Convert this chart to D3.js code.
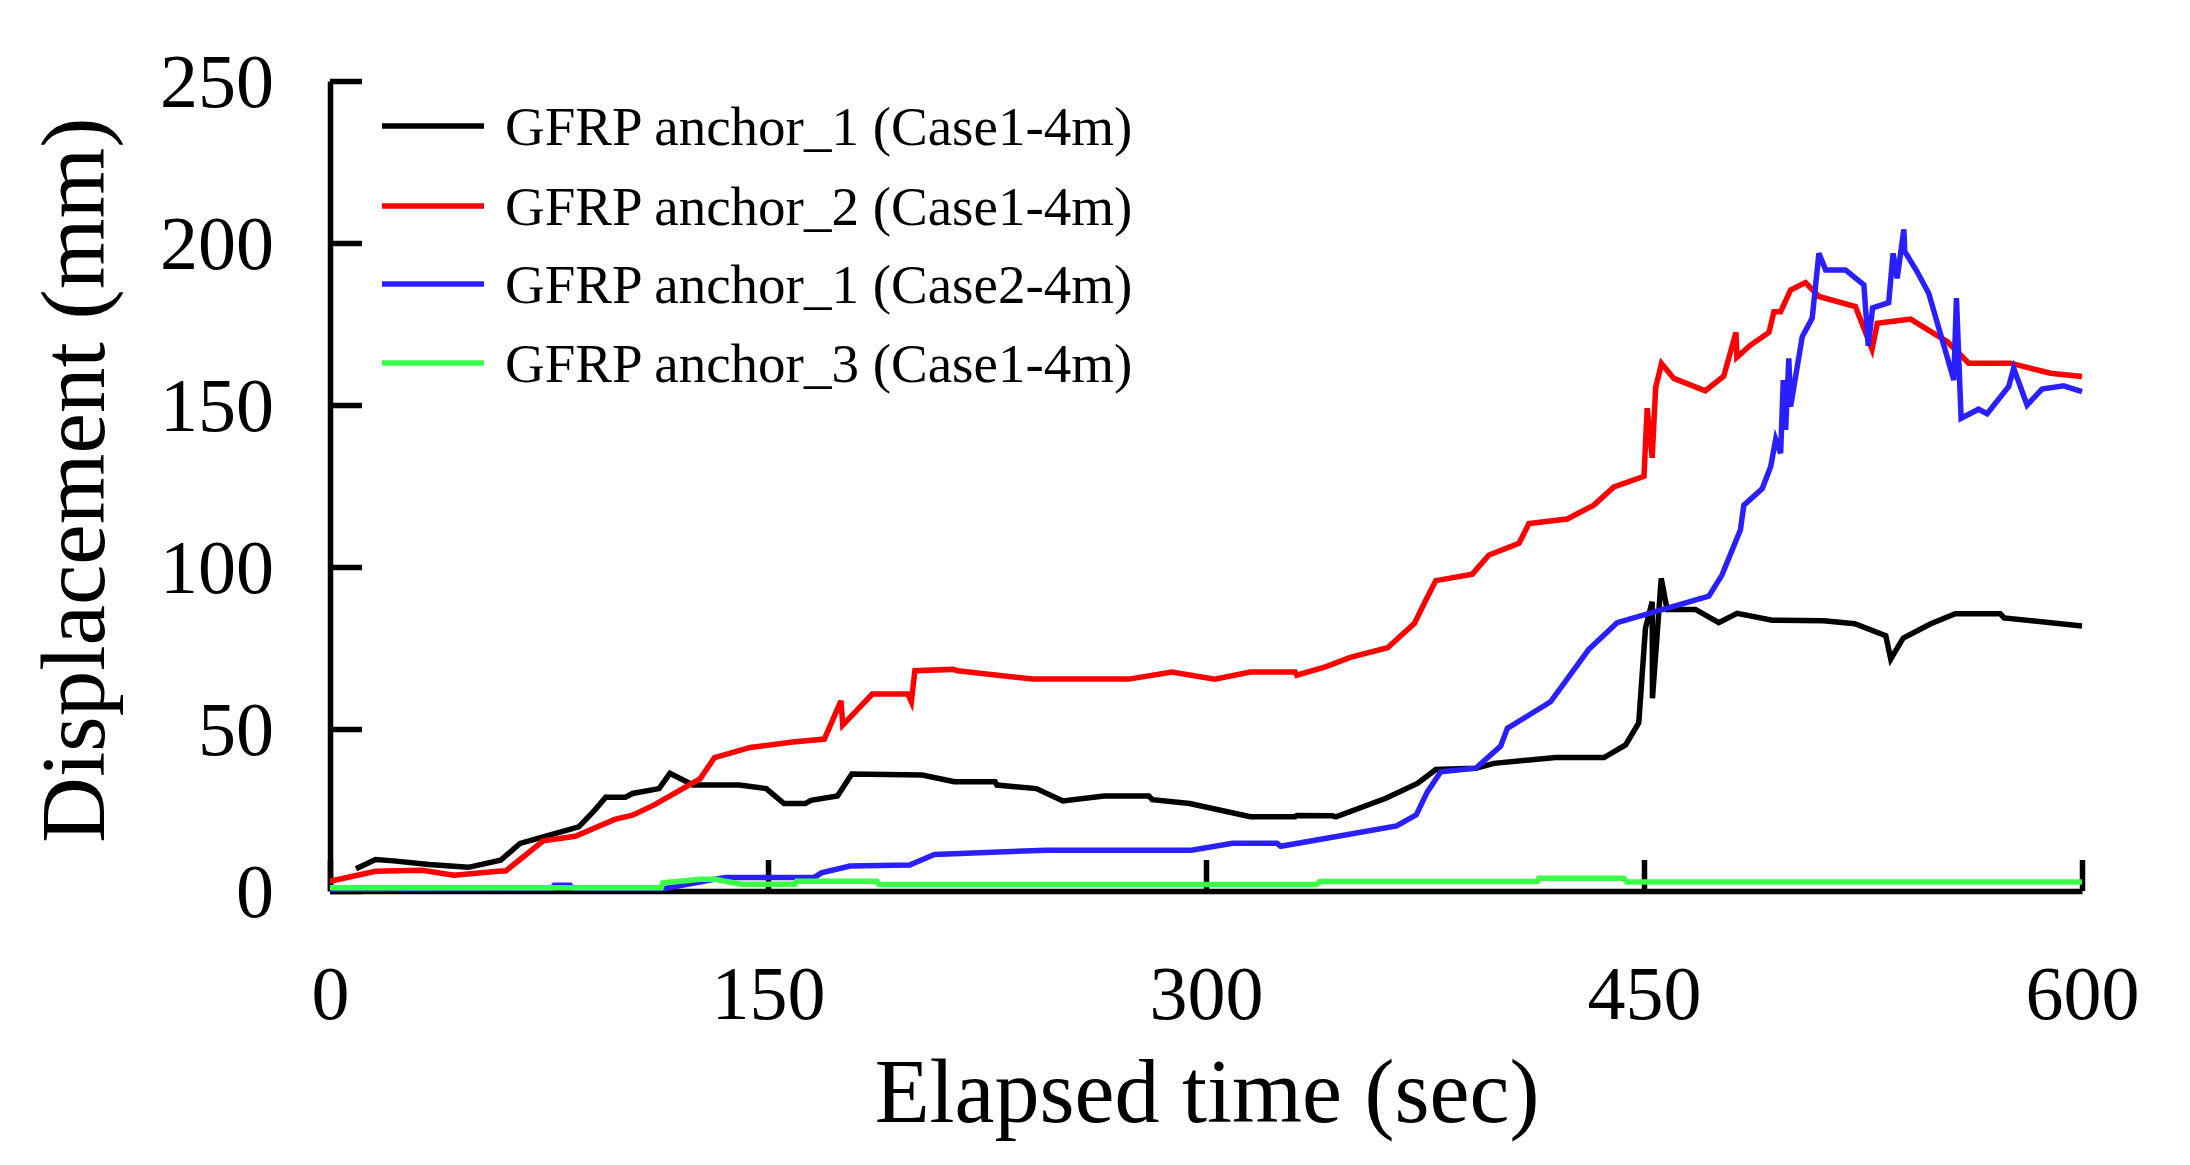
<!DOCTYPE html>
<html>
<head>
<meta charset="utf-8">
<script src="https://cdn.jsdelivr.net/npm/d3@7"></script>
<style>
  html, body { margin: 0; padding: 0; background: #fff; }
  svg { display: block; }
  text { font-family: "Liberation Serif", "Times New Roman", serif; fill: #000; }
</style>
</head>
<body>
<svg id="chart" width="2190" height="1165"></svg>
<script>
// ---- Data (time in sec, displacement in mm) ----
const xTicks = [0, 150, 300, 450, 600];
const yTicks = [0, 50, 100, 150, 200, 250];

const seriesNames = [
  "GFRP anchor_1 (Case1-4m)",
  "GFRP anchor_2 (Case1-4m)",
  "GFRP anchor_1 (Case2-4m)",
  "GFRP anchor_3 (Case1-4m)"
];
const seriesColors = ["#000000", "#ff0000", "#2a20ff", "#3cff48"];

const anchor1Case1 = [
  [8.9,6.9],[15.6,9.7],[21.7,9.3],[33.9,8.2],[47.4,7.3],[58.4,9.5],[65.1,14.7],[73,16.7],
  [85.2,19.8],[90.1,24.4],[94.4,28.9],[101.1,28.9],[103.6,30.1],[112.7,31.6],[116.4,36.3],
  [124.3,32.7],[140.2,32.7],[149.4,31.6],[155.5,27.0],[162.8,27.0],[164.7,28.0],[173.8,29.3],
  [178.7,36.1],[202.8,35.8],[213.8,33.7],[227.8,33.7],[228.4,32.7],[241.9,31.6],[251.0,27.8],
  [265.1,29.3],[280.4,29.3],[281.6,28.2],[294.4,27.0],[315.2,22.9],[330.5,22.9],[331.1,23.3],
  [343.3,23.2],[344.5,22.9],[361.6,28.6],[372.4,33.2],[378.7,37.5],[392.4,37.9],[398.6,39.4],
  [419.7,41.2],[436.3,41.2],[443.7,45.1],[448.2,51.9],[450.5,81.1],[452.8,89.3],[452.9,59.5],
  [455.9,96.5],[457.9,86.9],[467.6,86.9],[475.6,82.8],[481.9,85.7],[493.9,83.6],[511.5,83.4],
  [522.2,82.5],[532.8,78.8],[534.5,71.6],[538.8,78.1],[548.2,82.5],[556.6,85.6],[572.0,85.6],
  [573.3,84.3],[600,81.8]
];

const anchor2Case1 = [
  [0,3.0],[15.6,6.1],[31.5,6.4],[42.5,4.9],[58.4,6.2],[60.2,6.2],[73,15.5],[84,16.9],
  [97.5,22.1],[103.6,23.4],[110.9,26.5],[126.8,34.7],[131.7,41.2],[143.9,44.3],[158.5,46.0],
  [169.3,46.9],[175.0,58.7],[175.6,51.2],[185.7,60.8],[197.9,60.8],[199.1,58.4],[200.3,68.0],
  [213.2,68.4],[215.0,68.0],[240.7,65.4],[273.6,65.4],[288.3,67.6],[303.0,65.4],[315.2,67.6],
  [330.5,67.6],[331.1,66.6],[340.9,69.2],[349.4,72.1],[362.2,75.1],[371.4,82.6],[375.3,89.8],
  [378.7,95.8],[391.2,97.8],[396.9,103.7],[407.2,107.3],[410.6,113.4],[423.7,114.8],[432.8,119.1],
  [439.7,124.7],[450.0,128.0],[451.1,149.0],[452.8,133.7],[454.0,155.4],[456.0,162.8],[460.2,158.2],
  [471.0,154.4],[477.3,158.9],[481.5,172.4],[481.8,164.7],[486.5,168.5],[492.8,172.4],[494.5,178.8],
  [496.8,178.8],[500.2,185.5],[505.3,187.8],[509.9,183.5],[522.4,180.4],[528.1,167.2],[529.9,175.2],
  [541.3,176.5],[549.2,172.1],[553.8,169.6],[561.2,162.9],[575.5,162.9],[589.2,159.8],[600,158.8]
];

const anchor1Case2 = [
  [0,0.5],[76,0.8],[76.8,1.8],[82.2,1.8],[83,0.8],[114.6,0.8],[135.3,4.2],[165.9,4.2],
  [168.3,5.6],[178.1,7.7],[198.5,8.0],[207.0,11.3],[245.5,12.6],[295.0,12.6],[309.1,14.7],
  [324.3,14.7],[325.6,13.8],[340.8,16.2],[365.3,20.1],[372.0,23.5],[375.8,30.6],[380.4,36.8],
  [392.4,37.9],[400.9,44.7],[403.2,50.2],[418.0,58.4],[431.1,74.6],[440.8,82.8],[472.2,91.0],
  [476.7,97.5],[483.0,111.4],[484.2,119.1],[490.5,124.2],[493.4,131.0],[495.1,139.4],[496.8,135.1],
  [497.7,157.7],[498.5,142.3],[499.6,164.4],[500.2,149.5],[504.2,171.1],[507.6,176.8],[509.9,196.8],
  [512.2,191.7],[519.0,191.7],[525.3,187.1],[526.8,168.3],[528.3,180.0],[533.8,181.6],[535.3,196.8],
  [536.7,189.1],[539.0,204.2],[539.3,197.4],[543.5,191.2],[547.5,184.5],[551.5,172.1],[556.1,157.7],
  [557.0,183.0],[558.6,145.9],[564.6,148.7],[567.5,147.3],[574.9,155.7],[576.6,161.3],[581.2,150.0],
  [586.3,154.9],[593.7,155.9],[600,154.1]
];

const anchor3Case1 = [
  [0,1.0],[113.4,1.0],[114,2.5],[126.8,3.6],[131.7,3.6],[140.8,2.1],[159.2,2.1],[159.8,3.0],
  [187.3,3.0],[188.1,2.0],[337.8,2.0],[339.0,2.9],[413.5,2.9],[414.0,3.9],[443.1,3.9],
  [444.2,2.8],[600,2.8]
];

const allSeries = [anchor1Case1, anchor2Case1, anchor1Case2, anchor3Case1];

// ---- Layout ----
const svg = d3.select("#chart");
const plotLeft = 330, plotRight = 2082, plotTop = 81, plotBottom = 891;

const x = d3.scaleLinear().domain([0, 600]).range([plotLeft, plotRight]);
const y = d3.scaleLinear().domain([0, 250]).range([plotBottom, plotTop]);

// Axes
const yAxis = d3.axisLeft(y).tickValues(yTicks).tickSize(-32).tickSizeOuter(0).tickPadding(56);
const xAxis = d3.axisBottom(x).tickValues(xTicks).tickSize(-31).tickSizeOuter(0);

const gy = svg.append("g").attr("transform", `translate(${plotLeft},0)`).call(yAxis);
gy.selectAll("text").style("font-size", "76px").attr("dy", "0.34em");

const gx = svg.append("g").attr("transform", `translate(0,${plotBottom})`).call(xAxis);
gx.selectAll("text").style("font-size", "76px").attr("y", 128).attr("dy", 0);

[gx, gy].forEach(g => {
  g.select(".domain").attr("stroke", "#000").attr("stroke-width", 5.5);
  g.selectAll(".tick line").attr("stroke", "#000").attr("stroke-width", 5.5);
  g.attr("font-family", null);
});

// Lines
const line = d3.line().x(d => x(d[0])).y(d => y(d[1]));
allSeries.forEach((s, i) => {
  svg.append("path")
    .datum(s)
    .attr("fill", "none")
    .attr("stroke", seriesColors[i])
    .attr("stroke-width", 5.5)
    .attr("stroke-linejoin", "miter")
    .attr("d", line);
});

// Legend
const legend = svg.append("g");
const legendY = [126, 206, 284, 363];
seriesNames.forEach((name, i) => {
  legend.append("line")
    .attr("x1", 382).attr("x2", 484)
    .attr("y1", legendY[i]).attr("y2", legendY[i])
    .attr("stroke", seriesColors[i]).attr("stroke-width", 5.5);
  legend.append("text")
    .attr("x", 505).attr("y", legendY[i] + 19)
    .style("font-size", "55px")
    .text(name);
});

// Axis titles
svg.append("text")
  .attr("x", 1207).attr("y", 1122)
  .attr("text-anchor", "middle")
  .style("font-size", "90px")
  .text("Elapsed time (sec)");

svg.append("text")
  .attr("transform", "translate(104,480) rotate(-90)")
  .attr("text-anchor", "middle")
  .style("font-size", "91px")
  .text("Displacement (mm)");
</script>
</body>
</html>
